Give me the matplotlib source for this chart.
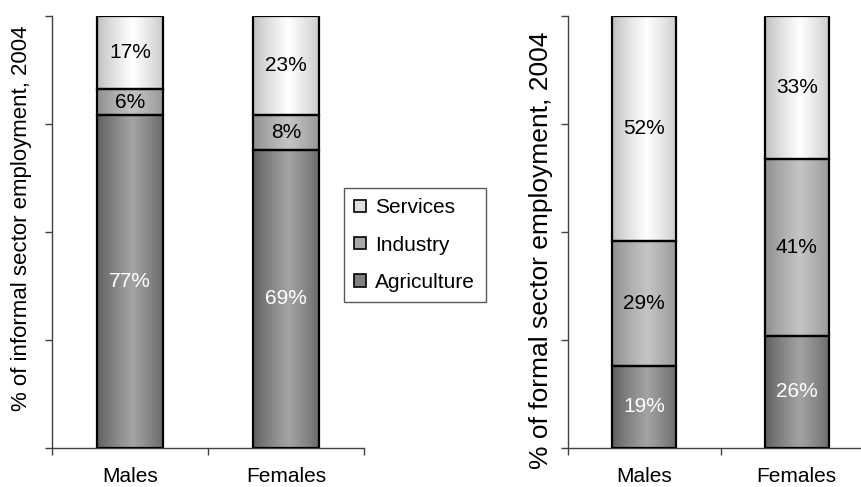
import numpy as np
import matplotlib
matplotlib.use("Agg")
import matplotlib.pyplot as plt
from matplotlib.patches import Rectangle, Patch

plt.rcParams['font.family'] = ['Liberation Sans', 'DejaVu Sans']

categories = ["Males", "Females"]
sectors = ["Agriculture", "Industry", "Services"]
informal = {"Agriculture": [77, 69], "Industry": [6, 8], "Services": [17, 23]}
formal = {"Agriculture": [19, 26], "Industry": [29, 41], "Services": [52, 33]}
ylabels = ["% of informal sector employment, 2004",
           "% of formal sector employment, 2004"]

# (edge grey, centre grey, label colour) for each sector's shaded fill
shades = {
    "Agriculture": (0.36, 0.64, "white"),
    "Industry": (0.55, 0.77, "black"),
    "Services": (0.74, 1.00, "black"),
}

FS = 15
W, H = 862, 487
fig = plt.figure(figsize=(W / 100, H / 100), dpi=100)

BAR_W = 0.42


def gradient(edge, centre, n=200):
    t = np.linspace(0, 1, n)
    prof = 1 - np.abs(2 * t - 1.08) / 1.08
    prof = np.clip(prof, 0, 1) ** 0.8
    v = edge + (centre - edge) * prof
    return np.dstack([v, v, v]).reshape(1, n, 3)


def draw_panel(ax, data, ylabel, lab_size, lab_xy):
    bottoms = np.zeros(len(categories))
    for s in sectors:
        vals = np.array(data[s], dtype=float)
        edge, centre, tc = shades[s]
        img = gradient(edge, centre)
        for i, v in enumerate(vals):
            x0, x1 = i - BAR_W / 2, i + BAR_W / 2
            y0, y1 = bottoms[i], bottoms[i] + v
            ax.imshow(img, extent=[x0, x1, y0, y1], aspect='auto',
                      interpolation='bilinear', zorder=2)
            ax.add_patch(Rectangle((x0, y0), BAR_W, v, fill=False,
                                   edgecolor='black', linewidth=1.6, zorder=3))
            ax.text(i, y0 + v / 2, f"{v:.0f}%", ha='center', va='center',
                    fontsize=FS, color=tc, zorder=4)
        bottoms += vals
    ax.set_xlim(-0.5, 1.5)
    ax.set_ylim(0, 100)
    for sp in ("top", "right"):
        ax.spines[sp].set_visible(False)
    for sp in ("left", "bottom"):
        ax.spines[sp].set_color('#404040')
        ax.spines[sp].set_linewidth(1.0)
    ax.set_yticks([0, 25, 50, 75, 100])
    ax.set_yticklabels([])
    ax.tick_params(axis='y', direction='out', length=5, width=1, color='#404040')
    ax.set_xticks([-0.5, 0.5, 1.5])
    ax.set_xticklabels([])
    ax.set_xticks([0, 1], minor=True)
    ax.set_xticklabels(categories, minor=True, fontsize=FS)
    ax.tick_params(axis='x', which='major', direction='out', length=5,
                   width=1, color='#404040')
    ax.tick_params(axis='x', which='minor', length=0, pad=14)
    ax.set_ylabel(ylabel, fontsize=lab_size, va='center')
    ax.yaxis.set_label_coords(*lab_xy)


ax1 = fig.add_axes([52 / W, (H - 448) / H, 312 / W, 432 / H])
ax2 = fig.add_axes([568 / W, (H - 448) / H, 305 / W, 432 / H])
draw_panel(ax1, informal, ylabels[0], 16, ((22 - 52) / 312, (448 - 218) / 432))
draw_panel(ax2, formal, ylabels[1], 19, ((541 - 568) / 305, (448 - 250) / 432))

handles = [Patch(facecolor=str((shades[s][0] + shades[s][1]) / 2),
                 edgecolor='black', linewidth=1.2, label=s)
           for s in reversed(sectors)]
leg = fig.legend(handles=handles, loc='upper left',
                 bbox_to_anchor=(344 / W, 1 - 188 / H), fontsize=FS,
                 frameon=True, fancybox=False, handlelength=0.55,
                 handleheight=0.55, handletextpad=0.45, labelspacing=0.87,
                 borderpad=0.5, borderaxespad=0)
leg.get_frame().set_edgecolor('#303030')
leg.get_frame().set_linewidth(1.0)

fig.savefig("out.png", dpi=100)
